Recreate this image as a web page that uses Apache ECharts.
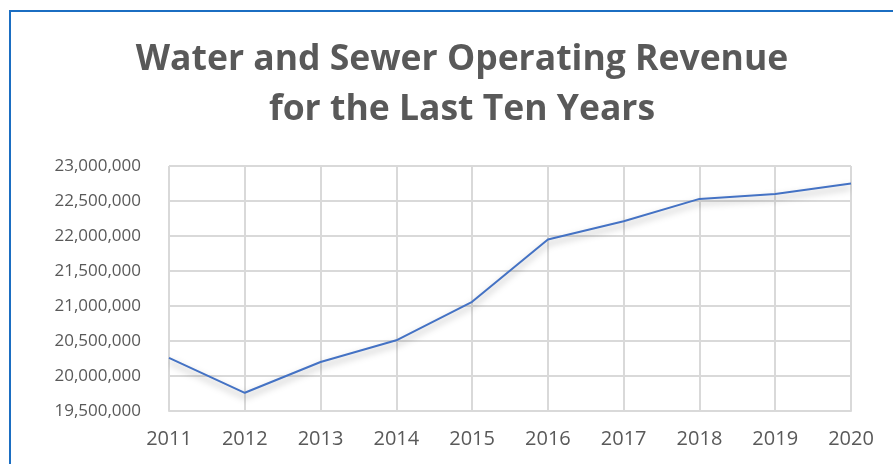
<!DOCTYPE html>
<html>
<head>
<meta charset="utf-8">
<script src="https://cdn.jsdelivr.net/npm/echarts@6/dist/echarts.min.js"></script>
<style>
  html, body { margin: 0; padding: 0; background: #fff; }
  #frame { position: absolute; left: 9px; top: 10px; right: -10px; bottom: -10px;
           border-left: 2px solid #1b6ec2; border-top: 2px solid #1b6ec2; }
  #chart { position: absolute; left: 0; top: 0; width: 893px; height: 464px; }
</style>
</head>
<body>
<div id="frame"></div>
<div id="chart"></div>
<script>
// 数据
var years = ['2011', '2012', '2013', '2014', '2015', '2016', '2017', '2018', '2019', '2020']
var revenue = [20260000, 19760000, 20200000, 20510000, 21060000, 21950000, 22210000, 22530000, 22600000, 22750000]
var titleText = 'Water and Sewer Operating Revenue\nfor the Last Ten Years'

var textColor = '#595959'
var gridColor = '#d9d9d9'
var lineColor = '#4472c4'

var chart = echarts.init(document.getElementById('chart'))
var option = {
    animation: false,
    title: {
        text: titleText,
        left: 457,
        textAlign: 'center',
        top: 30,
        textStyle: {
            fontFamily: 'Open Sans',
            fontWeight: 'bold',
            fontSize: 35.5,
            lineHeight: 50,
            color: textColor
        }
    },
    grid: {
        left: 169,
        right: 42,
        top: 166,
        bottom: 53
    },
    xAxis: {
        type: 'category',
        data: years,
        boundaryGap: false,
        axisLine: { show: true, lineStyle: { color: gridColor, width: 2 } },
        axisTick: { show: false },
        splitLine: { show: true, lineStyle: { color: gridColor, width: 2 } },
        axisLabel: {
            color: textColor,
            fontFamily: 'Open Sans',
            fontSize: 20,
            margin: 18
        }
    },
    yAxis: {
        type: 'value',
        min: 19500000,
        max: 23000000,
        interval: 500000,
        axisLine: { show: false },
        axisTick: { show: false },
        splitLine: { lineStyle: { color: gridColor, width: 2 } },
        axisLabel: {
            color: textColor,
            fontFamily: 'Open Sans',
            fontSize: 17,
            margin: 28,
            formatter: function (v) { return v.toLocaleString('en-US') }
        }
    },
    series: [{
        type: 'line',
        data: revenue,
        symbol: 'none',
        lineStyle: {
            color: lineColor,
            width: 2,
            shadowColor: 'rgba(0, 0, 0, 0.35)',
            shadowBlur: 7,
            shadowOffsetY: 4
        }
    }]
}
chart.setOption(option)
</script>
</body>
</html>
